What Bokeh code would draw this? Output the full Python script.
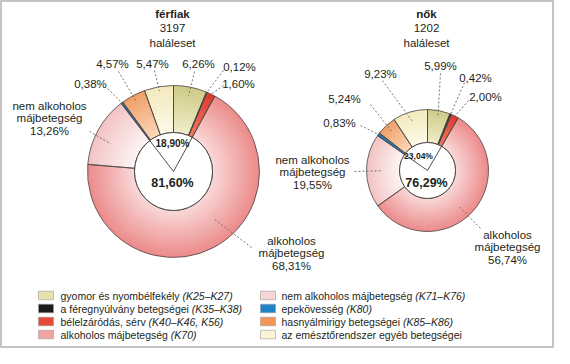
import math
from bokeh.plotting import figure
from bokeh.models import Range1d
from bokeh.embed import file_html
from bokeh.resources import INLINE
from bokeh.core.properties import value

# ---------------- data ----------------
categories = ["gyomor és nyombélfekély", "a féregnyúlvány betegségei", "bélelzáródás, sérv",
              "alkoholos májbetegség", "nem alkoholos májbetegség", "epekövesség",
              "hasnyálmirigy betegségei", "az emésztőrendszer egyéb betegségei"]
codes = ["(K25–K27)", "(K35–K38)", "(K40–K46, K56)", "(K70)", "(K71–K76)", "(K80)", "(K85–K86)", ""]
male_pct = [6.26, 0.12, 1.60, 68.31, 13.26, 0.38, 4.57, 5.47]
female_pct = [5.99, 0.42, 2.00, 56.74, 19.55, 0.83, 5.24, 9.23]
male_inner = ["18,90%", "81,60%"]
female_inner = ["23,04%", "76,29%"]
group_titles = ["férfiak", "nők"]
group_deaths = ["3197", "1202"]
death_word = "haláleset"
label_prefix = {3: ["alkoholos", "májbetegség"], 4: ["nem alkoholos", "májbetegség"]}

# ---------------- styles ----------------
FONT = "Liberation Sans"
TXT = "#231f20"
inner_cols = ["#efecc6", "#1c1c1c", "#f27a5e", "#f9d6d6", "#fdf3f3", "#2a86c6", "#fbd7b6", "#fdf9e6"]
outer_cols = ["#d0cb8a", "#1c1c1c", "#dc3a30", "#ec8c8c", "#f3c4c4", "#1a74b0", "#f0a06a", "#f3eabd"]
legend_cols = ["#e6e2ad", "#1c1c1c", "#e6493a", "#f2a4a4", "#f6d6d6", "#1c84c6", "#f19458", "#faf3d6"]

def Y(v):
    return 364 - v

p = figure(width=554, height=348, output_backend="svg", toolbar_location=None,
           x_range=Range1d(8, 562), y_range=Range1d(8, 356), min_border=0)
p.axis.visible = False
p.grid.visible = False
p.outline_line_color = "#c4c4c4"
p.outline_line_width = 3
p.background_fill_color = "white"
p.border_fill_color = "white"

def hex2rgb(h):
    h = h.lstrip("#")
    return tuple(int(h[i:i + 2], 16) for i in (0, 2, 4))

def mix(c1, c2, t):
    a, b = hex2rgb(c1), hex2rgb(c2)
    return "#%02x%02x%02x" % tuple(round(a[i] + (b[i] - a[i]) * t) for i in range(3))

# layout per label: (label x, first-line y, leader start x, start y, radius fraction, angle fraction in slice)
groups = [
    dict(pct=male_pct, inner=male_inner, cx=181, cy=179, ro=86, ri=39, tx=180,
         inner_pos=[(180, 151, "10px"), (180, 190, "12.5px")],
         labels={0: (206, 71, 202, 79, 0.9, 0.5), 1: (247, 74, 231, 78, 1.0, 0.5),
                 2: (246, 91, 231, 93, 1.0, 0.5), 3: (299, 248, 259, 255, 0.73, 0.45),
                 4: (57, 113, 97, 139, 0.8, 0.4), 5: (98, 91, 115, 96, 1.0, 0.5),
                 6: (120, 71, 126, 79, 0.92, 0.5), 7: (160, 71, 162, 78, 0.95, 0.5)}),
    dict(pct=female_pct, inner=female_inner, cx=435, cy=178, ro=61, ri=28, tx=434,
         inner_pos=[(426, 163, "8.5px"), (434, 190, "12.5px")],
         labels={0: (448, 73, 448, 81, 0.92, 0.5), 1: (483, 85, 472, 90, 1.0, 0.5),
                 2: (493, 104, 476, 108, 1.0, 0.5), 3: (515, 242, 488, 236, 0.8, 0.53),
                 4: (320, 167, 362, 179, 0.75, 0.5), 5: (347, 130, 368, 133, 1.0, 0.5),
                 6: (352, 106, 378, 112, 0.85, 0.5), 7: (388, 81, 390, 88, 0.82, 0.5)}),
]

NR = 16
for gi, g in enumerate(groups):
    pct = g["pct"]
    tot = sum(pct)
    cx, cy, ro, ri = g["cx"], Y(g["cy"]), g["ro"], g["ri"]
    cum = [0.0]
    for v in pct:
        cum.append(cum[-1] + v)

    def ang(c):
        return math.pi / 2 - 2 * math.pi * c / tot

    # gradient rings
    xs, ys, irs, ors, sas, eas, cols = [], [], [], [], [], [], []
    for k in range(len(pct)):
        sa, ea = ang(cum[k + 1]), ang(cum[k])
        for j in range(NR):
            t = j / (NR - 1)
            r0 = ri + (ro - ri) * j / NR
            r1 = ri + (ro - ri) * (j + 1) / NR + 0.6
            xs.append(cx); ys.append(cy); irs.append(r0); ors.append(min(r1, ro))
            sas.append(sa); eas.append(ea); cols.append(mix(inner_cols[k], outer_cols[k], t))
    p.annular_wedge(x=xs, y=ys, inner_radius=irs, outer_radius=ors, start_angle=sas, end_angle=eas,
                    fill_color=cols, line_color=None)
    # outlines
    p.annular_wedge(x=[cx] * len(pct), y=[cy] * len(pct), inner_radius=ri, outer_radius=ro,
                    start_angle=[ang(cum[k + 1]) for k in range(len(pct))],
                    end_angle=[ang(cum[k]) for k in range(len(pct))],
                    fill_alpha=0, line_color="#4a4242", line_width=0.8)
    # inner hole
    p.circle(x=[cx], y=[cy], radius=ri, fill_color="white", line_color="#3a3a3a", line_width=0.9)
    a1, a2 = ang(cum[3]), ang(cum[5])
    p.segment(x0=[cx, cx], y0=[cy, cy], x1=[cx + ri * math.cos(a1), cx + ri * math.cos(a2)],
              y1=[cy + ri * math.sin(a1), cy + ri * math.sin(a2)], line_color="#3a3a3a", line_width=0.9)
    for (txt, (ix, iy, fs)) in zip(g["inner"], g["inner_pos"]):
        p.text(x=[ix], y=[Y(iy)], text=[txt], text_font=value(FONT), text_font_style="bold",
               text_font_size=fs, text_align="center", text_baseline="middle", text_color=TXT)
    # titles
    for li, (t, st) in enumerate([(group_titles[gi], "bold"), (group_deaths[gi], "normal"), (death_word, "normal")]):
        p.text(x=[g["tx"]], y=[Y(21 + 14.5 * li)], text=[t], text_font=value(FONT), text_font_style=st,
               text_font_size="11.5px", text_align="center", text_baseline="middle", text_color=TXT)
    # labels + leader lines
    for k, v in enumerate(pct):
        lx, ly, sx, sy, rf, af = g["labels"][k]
        lines = label_prefix.get(k, []) + [f"{v:.2f}".replace(".", ",") + "%"]
        p.text(x=[lx] * len(lines), y=[Y(ly + 12.5 * i) for i in range(len(lines))], text=lines,
               text_font=value(FONT), text_font_size="11.5px", text_align="center",
               text_baseline="middle", text_color=TXT)
        am = ang(cum[k] + (cum[k + 1] - cum[k]) * af)
        rr = ro * rf if rf < 1.0 else ro - 0.5
        p.segment(x0=[sx], y0=[Y(sy)], x1=[cx + rr * math.cos(am)], y1=[cy + rr * math.sin(am)],
                  line_color="#666666", line_width=0.9, line_dash="2 2")

# ---------------- legend ----------------
AW = {' ': 278, ',': 278, '.': 278, '(': 333, ')': 333, '-': 333, '–': 556, 'K': 667,
      'a': 556, 'b': 556, 'c': 500, 'd': 556, 'e': 556, 'f': 278, 'g': 556, 'h': 556, 'i': 222,
      'j': 222, 'k': 500, 'l': 222, 'm': 833, 'n': 556, 'o': 556, 'p': 556, 'q': 556, 'r': 333,
      's': 500, 't': 278, 'u': 556, 'v': 500, 'w': 722, 'x': 500, 'y': 500, 'z': 500,
      'á': 556, 'é': 556, 'í': 278, 'ó': 556, 'ö': 556, 'ő': 556, 'ú': 556, 'ü': 556, 'ű': 556}

def tw(s, size):
    return sum(AW.get(ch, 556) for ch in s) * size / 1000.0

LFS = 10.5
rows_y = [303, 316, 329, 342]
cols_x = [(46, 68), (268, 289)]
for k in range(len(categories)):
    col, row = divmod(k, 4)
    sx, tx = cols_x[col]
    yy = Y(rows_y[row])
    p.rect(x=[sx + 7.5], y=[yy], width=15, height=8.5, fill_color=legend_cols[k],
           line_color="#9a9a9a", line_width=0.6)
    p.text(x=[tx], y=[yy], text=[categories[k]], text_font=value(FONT), text_font_size=f"{LFS}px",
           text_align="left", text_baseline="middle", text_color=TXT)
    if codes[k]:
        p.text(x=[tx + tw(categories[k] + " ", LFS)], y=[yy], text=[codes[k]], text_font=value(FONT),
               text_font_style="italic", text_font_size=f"{LFS}px", text_align="left",
               text_baseline="middle", text_color=TXT)

open("out.html", "w").write(file_html(p, INLINE))
